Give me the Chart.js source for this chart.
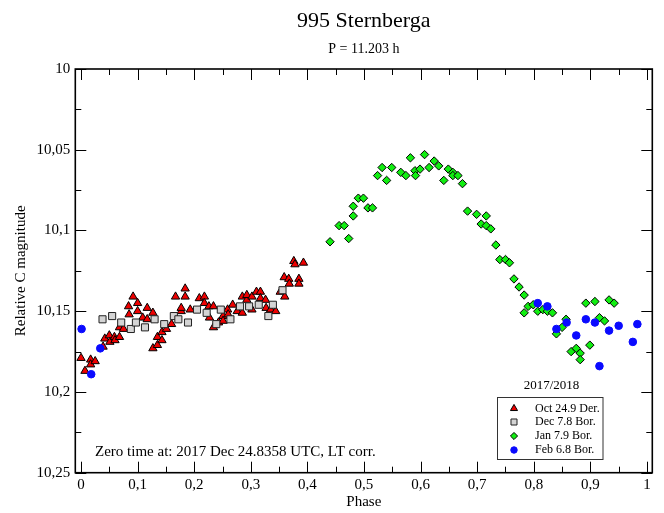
<!DOCTYPE html>
<html><head><meta charset="utf-8">
<script src="https://cdn.jsdelivr.net/npm/chart.js@4/dist/chart.umd.min.js"></script>
<style>html,body{margin:0;padding:0;background:#fff}canvas{display:block}</style>
</head><body>
<canvas id="c" width="664" height="513"></canvas>
<script>
const titleText = '995 Sternberga';
const subtitleText = 'P = 11.203 h';
const noteText = 'Zero time at: 2017 Dec 24.8358 UTC, LT corr.';
const legendTitle = '2017/2018';
const xTitle = 'Phase';
const yTitle = 'Relative C magnitude';
const seriesNames = ['Oct 24.9 Der.', 'Dec 7.8 Bor.', 'Jan 7.9 Bor.', 'Feb 6.8 Bor.'];

const xTickValues = [0, 0.1, 0.2, 0.3, 0.4, 0.5, 0.6, 0.7, 0.8, 0.9, 1];
const xTickLabels = ['0', '0,1', '0,2', '0,3', '0,4', '0,5', '0,6', '0,7', '0,8', '0,9', '1'];
const yTickValues = [10, 10.05, 10.1, 10.15, 10.2, 10.25];
const yTickLabels = ['10', '10,05', '10,1', '10,15', '10,2', '10,25'];

const octPhase = [0.000,0.007,0.017,0.017,0.025,0.039,0.042,0.050,0.051,0.059,0.060,0.068,0.068,0.075,0.084,0.085,0.092,0.100,0.100,0.109,0.117,0.117,0.127,0.127,0.135,0.135,0.143,0.143,0.151,0.160,0.167,0.177,0.177,0.184,0.184,0.193,0.209,0.218,0.218,0.226,0.227,0.234,0.234,0.243,0.251,0.251,0.259,0.260,0.268,0.276,0.285,0.285,0.293,0.293,0.302,0.302,0.310,0.317,0.317,0.326,0.327,0.335,0.344,0.352,0.360,0.359,0.367,0.368,0.376,0.378,0.385,0.385,0.393];
const octMag   = [10.179,10.187,10.180,10.183,10.181,10.172,10.167,10.165,10.169,10.166,10.168,10.166,10.160,10.161,10.147,10.152,10.141,10.145,10.150,10.154,10.148,10.155,10.151,10.173,10.171,10.166,10.168,10.163,10.161,10.158,10.141,10.150,10.148,10.136,10.141,10.149,10.142,10.141,10.145,10.147,10.154,10.147,10.160,10.157,10.153,10.156,10.149,10.152,10.146,10.150,10.141,10.151,10.143,10.140,10.141,10.149,10.138,10.138,10.142,10.143,10.148,10.149,10.150,10.138,10.141,10.129,10.130,10.133,10.119,10.121,10.130,10.133,10.120];

const decPhase = [0.038,0.055,0.071,0.088,0.097,0.113,0.130,0.147,0.164,0.172,0.189,0.205,0.222,0.239,0.247,0.264,0.281,0.297,0.314,0.331,0.339,0.356];
const decMag   = [10.155,10.153,10.157,10.161,10.157,10.160,10.155,10.158,10.153,10.155,10.157,10.149,10.151,10.158,10.149,10.155,10.147,10.147,10.146,10.153,10.146,10.137];

const janPhase = [0.440,0.456,0.465,0.473,0.481,0.481,0.490,0.499,0.507,0.515,0.524,0.532,0.540,0.549,0.565,0.574,0.582,0.590,0.591,0.599,0.607,0.615,0.624,0.632,0.641,0.649,0.657,0.657,0.666,0.674,0.683,0.699,0.707,0.716,0.716,0.724,0.733,0.740,0.750,0.757,0.765,0.774,0.783,0.783,0.790,0.799,0.807,0.816,0.824,0.833,0.840,0.850,0.857,0.866,0.875,0.882,0.882,0.892,0.899,0.908,0.916,0.925,0.933,0.942];
const janMag   = [10.107,10.097,10.097,10.105,10.091,10.085,10.080,10.080,10.086,10.086,10.066,10.061,10.069,10.061,10.064,10.066,10.055,10.063,10.066,10.062,10.053,10.061,10.057,10.060,10.069,10.062,10.064,10.066,10.066,10.071,10.088,10.090,10.096,10.091,10.097,10.099,10.109,10.118,10.118,10.120,10.130,10.135,10.140,10.151,10.147,10.146,10.150,10.149,10.150,10.151,10.164,10.160,10.155,10.175,10.173,10.176,10.180,10.145,10.171,10.144,10.154,10.156,10.143,10.145];

const febPhase = [0.001,0.018,0.034,0.807,0.824,0.840,0.858,0.875,0.892,0.908,0.916,0.933,0.950,0.975,0.983];
const febMag   = [10.161,10.189,10.173,10.145,10.147,10.161,10.157,10.165,10.155,10.157,10.184,10.162,10.159,10.169,10.158];

const FONT = 'Liberation Serif, Times New Roman, serif';
const toPts = (xs, ys) => xs.map((x, i) => ({x: x, y: ys[i]}));

function legendMarker(ctx, ds, x, y) {
  ctx.save();
  ctx.fillStyle = ds.backgroundColor;
  ctx.strokeStyle = ds.borderColor;
  ctx.lineWidth = ds.borderWidth;
  Chart.helpers.drawPoint(ctx, {pointStyle: ds.pointStyle, radius: ds.pointRadius * 0.85, rotation: 0, borderWidth: ds.borderWidth}, x, y);
  ctx.restore();
}

const framePlugin = {
  id: 'frame',
  beforeDatasetsDraw(chart) {
    const ctx = chart.ctx, a = chart.chartArea;
    const xs = chart.scales.x, ys = chart.scales.y;
    ctx.save();
    ctx.strokeStyle = '#000';
    ctx.lineWidth = 1;
    ctx.beginPath();
    for (let i = 0; i <= 20; i++) {
      const v = i * 0.05;
      const px = Math.round(xs.getPixelForValue(v)) + 0.5;
      const len = (i % 2 === 0) ? 11 : 6;
      ctx.moveTo(px, a.bottom); ctx.lineTo(px, a.bottom - len);
      ctx.moveTo(px, a.top); ctx.lineTo(px, a.top + len);
    }
    for (let i = 0; i <= 10; i++) {
      const v = 10 + i * 0.025;
      const py = Math.round(ys.getPixelForValue(v)) + 0.5;
      const len = (i % 2 === 0) ? 11 : 6;
      ctx.moveTo(a.left, py); ctx.lineTo(a.left + len, py);
      ctx.moveTo(a.right, py); ctx.lineTo(a.right - len, py);
    }
    ctx.stroke();
    ctx.lineWidth = 1.6;
    ctx.strokeRect(a.left, a.top, a.right - a.left, a.bottom - a.top);
    ctx.restore();
  },
  afterDatasetsDraw(chart) {
    const ctx = chart.ctx, a = chart.chartArea;
    const cx = (a.left + a.right) / 2;
    ctx.save();
    ctx.fillStyle = '#000';
    ctx.textAlign = 'center';
    ctx.textBaseline = 'middle';
    ctx.font = '22px ' + FONT;
    ctx.fillText(titleText, cx, 21);
    ctx.font = '14px ' + FONT;
    ctx.fillText(subtitleText, cx, 49);
    ctx.textAlign = 'left';
    ctx.font = '15px ' + FONT;
    ctx.fillText(noteText, 95, 452);
    // legend box
    const bx = 497.5, by = 397.5, bw = 105.5, bh = 62;
    ctx.fillStyle = '#fff';
    ctx.fillRect(bx, by, bw, bh);
    ctx.strokeStyle = '#333';
    ctx.lineWidth = 1;
    ctx.strokeRect(bx, by, bw, bh);
    ctx.fillStyle = '#000';
    ctx.textAlign = 'center';
    ctx.font = '13px ' + FONT;
    ctx.fillText(legendTitle, 551.5, 386);
    ctx.textAlign = 'left';
    ctx.font = '12px ' + FONT;
    const rows = [408.5, 422, 436, 450];
    chart.data.datasets.forEach((ds, i) => {
      legendMarker(ctx, ds, 514, rows[i]);
      ctx.fillStyle = '#000';
      ctx.fillText(ds.label, 535, rows[i]);
    });
    ctx.restore();
  }
};

new Chart(document.getElementById('c'), {
  type: 'scatter',
  data: {
    datasets: [
      {label: seriesNames[0], data: toPts(octPhase, octMag), pointStyle: 'triangle', pointRadius: 4.8, backgroundColor: '#ee0000', borderColor: '#000', borderWidth: 1, order: 4},
      {label: seriesNames[1], data: toPts(decPhase, decMag), pointStyle: 'rect', pointRadius: 5, backgroundColor: '#d4d4d4', borderColor: '#222', borderWidth: 1, order: 3},
      {label: seriesNames[2], data: toPts(janPhase, janMag), pointStyle: 'rectRot', pointRadius: 4.2, backgroundColor: '#11ee11', borderColor: '#000', borderWidth: 1, order: 2},
      {label: seriesNames[3], data: toPts(febPhase, febMag), pointStyle: 'circle', pointRadius: 3.8, backgroundColor: '#0a0aff', borderColor: '#0a0aff', borderWidth: 1, order: 1}
    ]
  },
  options: {
    responsive: false,
    animation: false,
    events: [],
    layout: {padding: {top: 69, right: 11.7, left: 0, bottom: 0}},
    plugins: {legend: {display: false}, tooltip: {enabled: false}, title: {display: false}},
    scales: {
      x: {
        type: 'linear', min: -0.0101, max: 1.0094,
        afterBuildTicks: s => { s.ticks = xTickValues.map(v => ({value: v})); },
        afterFit: s => { s.height = 40.3; },
        ticks: {callback: (v, i) => xTickLabels[i], font: {family: FONT, size: 15}, color: '#000', padding: 3, maxRotation: 0, autoSkip: false},
        grid: {display: false, drawTicks: false},
        border: {display: false},
        title: {display: true, text: xTitle, font: {family: FONT, size: 15}, color: '#000', padding: {top: 0, bottom: 2}}
      },
      y: {
        type: 'linear', reverse: true, min: 10, max: 10.25,
        afterBuildTicks: s => { s.ticks = yTickValues.map(v => ({value: v})); },
        afterFit: s => { s.width = 75.3; },
        ticks: {callback: (v, i) => yTickLabels[i], font: {family: FONT, size: 15}, color: '#000', padding: 5, autoSkip: false},
        grid: {display: false, drawTicks: false},
        border: {display: false},
        title: {display: true, text: yTitle, font: {family: FONT, size: 15}, color: '#000', padding: {top: 12.5, bottom: 0}}
      }
    }
  },
  plugins: [framePlugin]
});
</script>
</body></html>
